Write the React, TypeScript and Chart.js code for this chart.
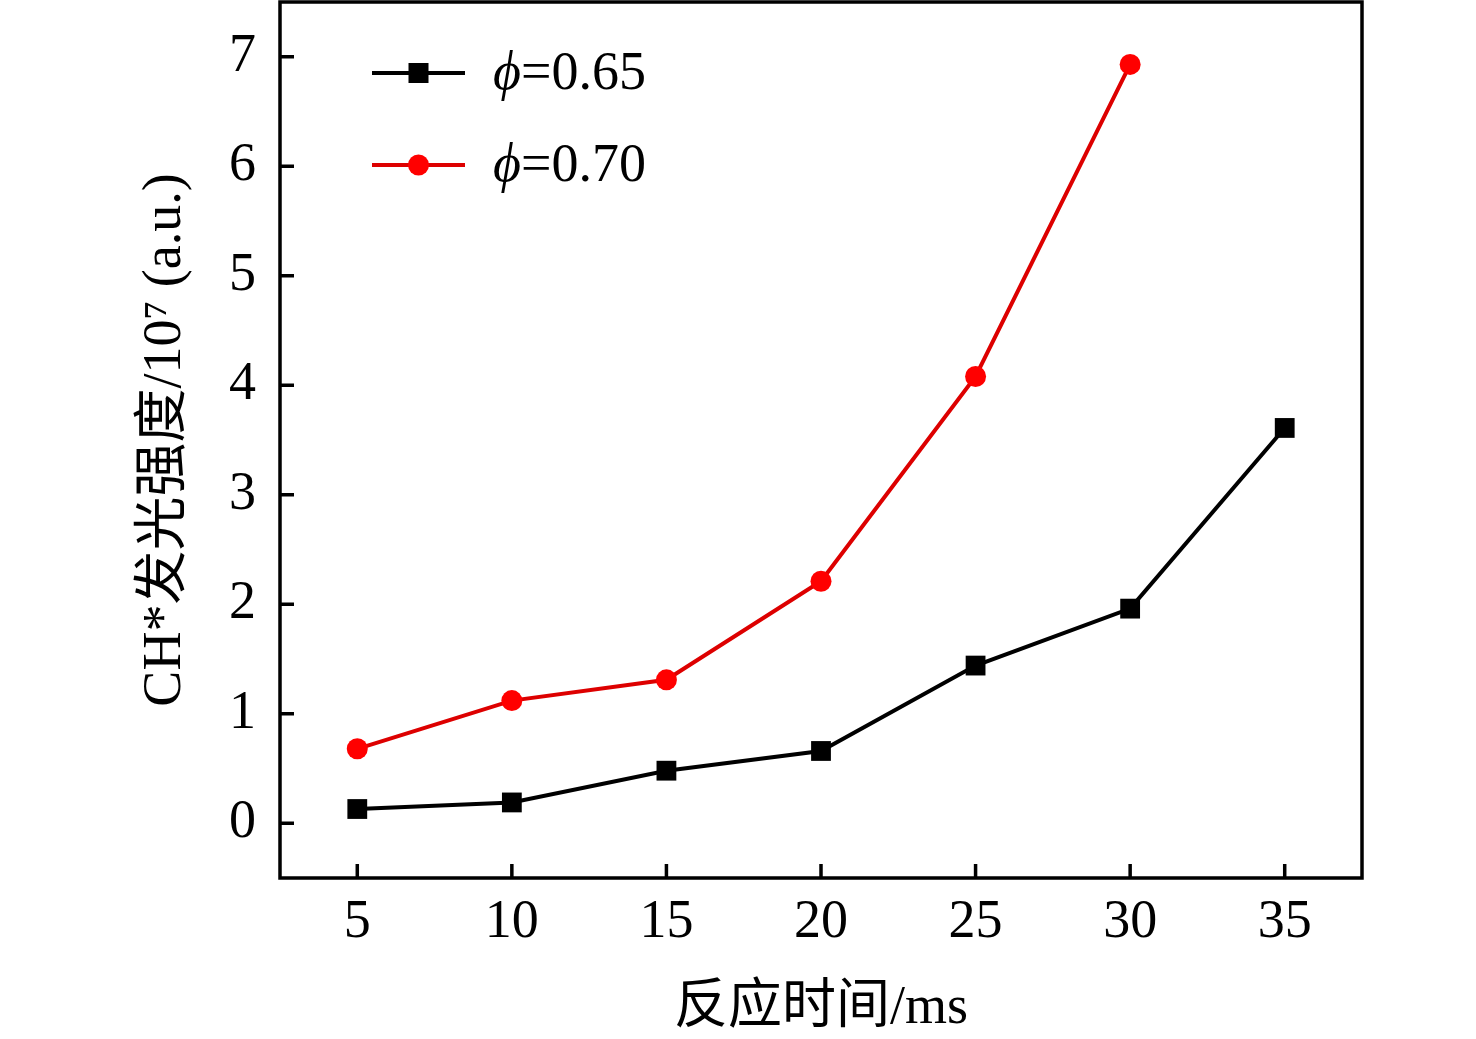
import { useEffect, useRef } from "react"
import { Chart, ChartConfiguration, Plugin, registerables } from "chart.js"

Chart.register(...registerables)

const times = [5, 10, 15, 20, 25, 30, 35]
const phi065 = [0.13, 0.19, 0.48, 0.66, 1.44, 1.96, 3.61]
const phi070 = [0.68, 1.12, 1.31, 2.21, 4.08, 6.93]
const seriesNames = ["=0.65", "=0.70"]
const xTicks = [5, 10, 15, 20, 25, 30, 35]
const yTicks = [0, 1, 2, 3, 4, 5, 6, 7]

const FONT = "'Liberation Serif', 'Times New Roman', 'Noto Sans CJK SC', serif"

// box frame + inward ticks
const framePlugin: Plugin = {
  id: "frame",
  afterDraw(chart) {
    const { ctx, chartArea: a, scales } = chart
    ctx.save()
    ctx.strokeStyle = "#000"
    ctx.lineWidth = 3.5
    ctx.strokeRect(a.left, a.top, a.right - a.left, a.bottom - a.top)
    ctx.beginPath()
    xTicks.forEach((v) => {
      const px = scales.x.getPixelForValue(v)
      ctx.moveTo(px, a.bottom)
      ctx.lineTo(px, a.bottom - 14)
    })
    yTicks.forEach((v) => {
      const py = scales.y.getPixelForValue(v)
      ctx.moveTo(a.left, py)
      ctx.lineTo(a.left + 14, py)
    })
    ctx.stroke()
    ctx.restore()
  },
}

// legend drawn inside the plot, top-left
const legendPlugin: Plugin = {
  id: "insideLegend",
  afterDraw(chart) {
    const { ctx, chartArea: a } = chart
    ctx.save()
    chart.data.datasets.forEach((ds: any, i) => {
      const y = a.top + 71 + i * 92
      const x0 = a.left + 92
      const x1 = a.left + 185
      ctx.strokeStyle = ds.borderColor
      ctx.lineWidth = 4
      ctx.beginPath()
      ctx.moveTo(x0, y)
      ctx.lineTo(x1, y)
      ctx.stroke()
      ctx.fillStyle = ds.pointBackgroundColor
      const mx = (x0 + x1) / 2
      if (ds.pointStyle === "rect") {
        ctx.fillRect(mx - 10, y - 10, 20, 20)
      } else {
        ctx.beginPath()
        ctx.arc(mx, y, 10.5, 0, Math.PI * 2)
        ctx.fill()
      }
      ctx.fillStyle = "#000"
      ctx.textBaseline = "middle"
      ctx.font = `italic 54px ${FONT}`
      const tx = a.left + 213
      ctx.fillText("ϕ", tx, y + 2)
      const w = ctx.measureText("ϕ").width
      ctx.font = `54px ${FONT}`
      ctx.fillText(seriesNames[i], tx + w, y + 2)
    })
    ctx.restore()
  },
}

export default function App() {
  const canvasRef = useRef<HTMLCanvasElement>(null)

  useEffect(() => {
    if (!canvasRef.current) return
    const config: ChartConfiguration<"line"> = {
      type: "line",
      data: {
        datasets: [
          {
            label: "ϕ=0.65",
            data: times.map((t, i) => ({ x: t, y: phi065[i] })),
            borderColor: "#000000",
            backgroundColor: "#000000",
            pointBackgroundColor: "#000000",
            pointBorderColor: "#000000",
            pointStyle: "rect",
            pointRadius: 14,
            pointBorderWidth: 0,
            borderWidth: 4,
            tension: 0,
          },
          {
            label: "ϕ=0.70",
            data: phi070.map((v, i) => ({ x: times[i], y: v })),
            borderColor: "#dd0000",
            backgroundColor: "#ff0000",
            pointBackgroundColor: "#ff0000",
            pointBorderColor: "#ff0000",
            pointStyle: "circle",
            pointRadius: 10.5,
            pointBorderWidth: 0,
            borderWidth: 4,
            tension: 0,
          },
        ],
      },
      options: {
        responsive: false,
        animation: false,
        layout: { autoPadding: false, padding: { top: 2, right: 114, left: 0, bottom: 0 } },
        plugins: {
          legend: { display: false },
          tooltip: { enabled: false },
        },
        scales: {
          x: {
            type: "linear",
            min: 2.5,
            max: 37.5,
            afterBuildTicks: (s) => {
              s.ticks = xTicks.map((v) => ({ value: v }))
            },
            afterFit: (s) => {
              s.height = 161
              s.paddingLeft = 0
              s.paddingRight = 0
            },
            grid: { display: false, drawTicks: false },
            border: { display: false },
            ticks: {
              color: "#000",
              padding: 12,
              font: { family: FONT, size: 54 },
              maxRotation: 0,
            },
            title: {
              display: true,
              text: "反应时间/ms",
              color: "#000",
              font: { family: FONT, size: 54 },
              padding: { bottom: -2, top: 0 },
            },
          },
          y: {
            type: "linear",
            min: -0.5,
            max: 7.5,
            afterBuildTicks: (s) => {
              s.ticks = yTicks.map((v) => ({ value: v }))
            },
            afterFit: (s) => {
              s.width = 280
              s.paddingTop = 0
              s.paddingBottom = 0
            },
            grid: { display: false, drawTicks: false },
            border: { display: false },
            ticks: {
              color: "#000",
              padding: 24,
              font: { family: FONT, size: 54 },
            },
            title: {
              display: true,
              text: "CH*发光强度/10⁷ (a.u.)",
              color: "#000",
              font: { family: FONT, size: 54 },
              padding: { top: 133, bottom: 0 },
            },
          },
        },
      },
      plugins: [framePlugin, legendPlugin],
    }
    const chart = new Chart(canvasRef.current, config)
    return () => chart.destroy()
  }, [])

  return (
    <div style={{ position: "fixed", left: 0, top: 0, width: 1476, height: 1039, background: "#fff" }}>
      <canvas ref={canvasRef} width={1476} height={1039} style={{ display: "block" }} />
    </div>
  )
}
